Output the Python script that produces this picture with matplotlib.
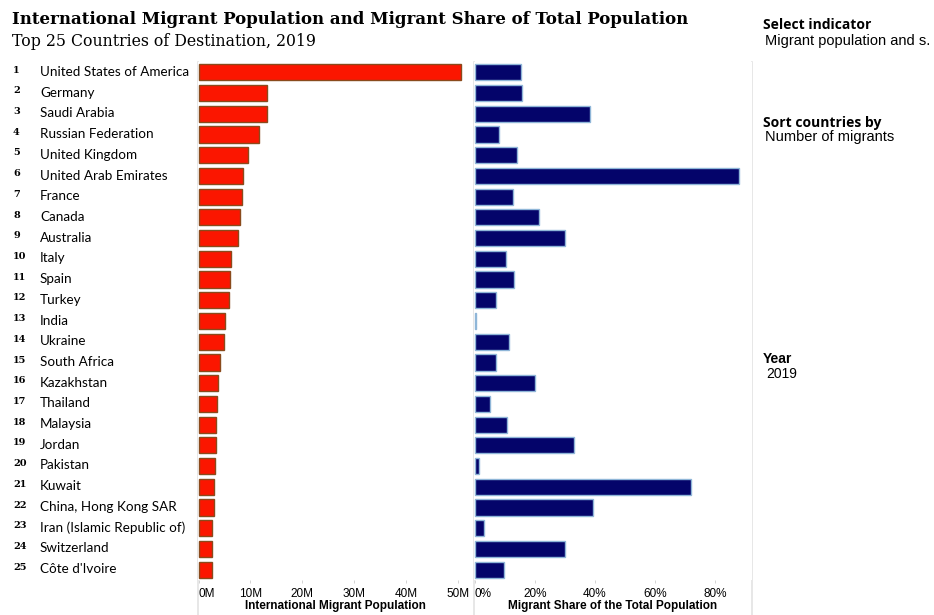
import matplotlib.pyplot as plt
import numpy as np

countries = ['United States of America', 'Germany', 'Saudi Arabia', 'Russian Federation',
             'United Kingdom', 'United Arab Emirates', 'France', 'Canada', 'Australia',
             'Italy', 'Spain', 'Turkey', 'India', 'Ukraine', 'South Africa', 'Kazakhstan',
             'Thailand', 'Malaysia', 'Jordan', 'Pakistan', 'Kuwait', 'China, Hong Kong SAR',
             'Iran (Islamic Republic of)', 'Switzerland', "Côte d'Ivoire"]
migrants = [50.66, 13.13, 13.12, 11.64, 9.55, 8.59, 8.33, 7.96, 7.55, 6.27, 6.10, 5.88,
            5.15, 4.96, 4.22, 3.73, 3.64, 3.43, 3.35, 3.26, 3.03, 2.94, 2.68, 2.57, 2.55]
share = [15.4, 15.7, 38.3, 8.0, 14.1, 87.9, 12.8, 21.3, 30.0, 10.4, 13.1, 7.1, 0.4, 11.3,
         7.2, 20.0, 5.2, 10.7, 33.1, 1.5, 72.1, 39.4, 3.2, 29.9, 9.7]
pop_ticks = [0, 10, 20, 30, 40, 50]
pop_labels = ['0M', '10M', '20M', '30M', '40M', '50M']
share_ticks = [0, 20, 40, 60, 80]
share_labels = ['0%', '20%', '40%', '60%', '80%']

W, H = 934, 615
fig = plt.figure(figsize=(W / 100, H / 100), dpi=100)


def px_axes(x0, y0, x1, y1):
    return fig.add_axes([x0 / W, 1 - y1 / H, (x1 - x0) / W, (y1 - y0) / H])


y = np.arange(len(countries))
grey = '#e3e3e3'

# left panel: migrant population
ax1 = px_axes(198, 62, 473, 580)
ax1.barh(y, migrants, height=0.78, color='#fb1600', edgecolor='#8a4a1c', linewidth=1.0, zorder=3)
ax1.set_xlim(-0.1, 52.9)
ax1.set_ylim(24.5, -0.5)

# right panel: migrant share
ax2 = px_axes(474, 62, 752, 580)
ax2.barh(y, share, height=0.78, color='#04046a', edgecolor='#8fb6d8', linewidth=1.0, zorder=3)
ax2.set_xlim(-0.3, 92.4)
ax2.set_ylim(24.5, -0.5)

for ax, ticks, labels, title in [(ax1, pop_ticks, pop_labels, 'International Migrant Population'),
                                 (ax2, share_ticks, share_labels, 'Migrant Share of the Total Population')]:
    for s in ax.spines.values():
        s.set_visible(False)
    ax.set_yticks([])
    ax.set_xticks(ticks)
    ax.set_xticklabels(labels, fontsize=8.5, family='Liberation Sans')
    ax.get_xticklabels()[0].set_ha('left')
    ax.tick_params(axis='x', length=2, width=0.6, color='#cccccc', pad=4)
    ax.set_xlabel(title, fontsize=8.5, family='Liberation Sans', fontweight='bold', labelpad=0)

# thin grey separators
for xp in [198, 474, 752]:
    fig.add_artist(plt.Line2D([xp / W, xp / W], [0, 1 - 62 / H], color=grey, lw=1.2, zorder=0))

# rank numbers and country names
for i, name in enumerate(countries):
    yy = 1 - (72 + i * 20.71) / H
    fig.text(13 / W, yy + 0.003, str(i + 1), fontsize=7, family='DejaVu Serif',
             fontweight='bold', va='center', ha='left')
    fig.text(40 / W, yy, name, fontsize=9.7, family='Lato', va='center', ha='left')

fig.text(12 / W, 1 - 19 / H, 'International Migrant Population and Migrant Share of Total Population',
         fontsize=12, family='DejaVu Serif', fontweight='bold', va='center', ha='left')
fig.text(12 / W, 1 - 41 / H, 'Top 25 Countries of Destination, 2019',
         fontsize=11.3, family='DejaVu Serif', va='center', ha='left')

fig.text(763 / W, 1 - 25 / H, 'Select indicator', fontsize=10, family='Open Sans',
         fontweight='bold', va='center', ha='left')
fig.text(765 / W, 1 - 41 / H, 'Migrant population and s.', fontsize=10.5, family='Liberation Sans',
         va='center', ha='left')
fig.text(763 / W, 1 - 123 / H, 'Sort countries by', fontsize=10, family='Open Sans',
         fontweight='bold', va='center', ha='left')
fig.text(765 / W, 1 - 137 / H, 'Number of migrants', fontsize=10.5, family='Liberation Sans',
         va='center', ha='left')
fig.text(763 / W, 1 - 359 / H, 'Year', fontsize=10, family='Liberation Sans',
         fontweight='bold', va='center', ha='left')
fig.text(766 / W, 1 - 374 / H, '2019', fontsize=10, family='Liberation Sans',
         va='center', ha='left')

fig.savefig('out.png', dpi=100)
